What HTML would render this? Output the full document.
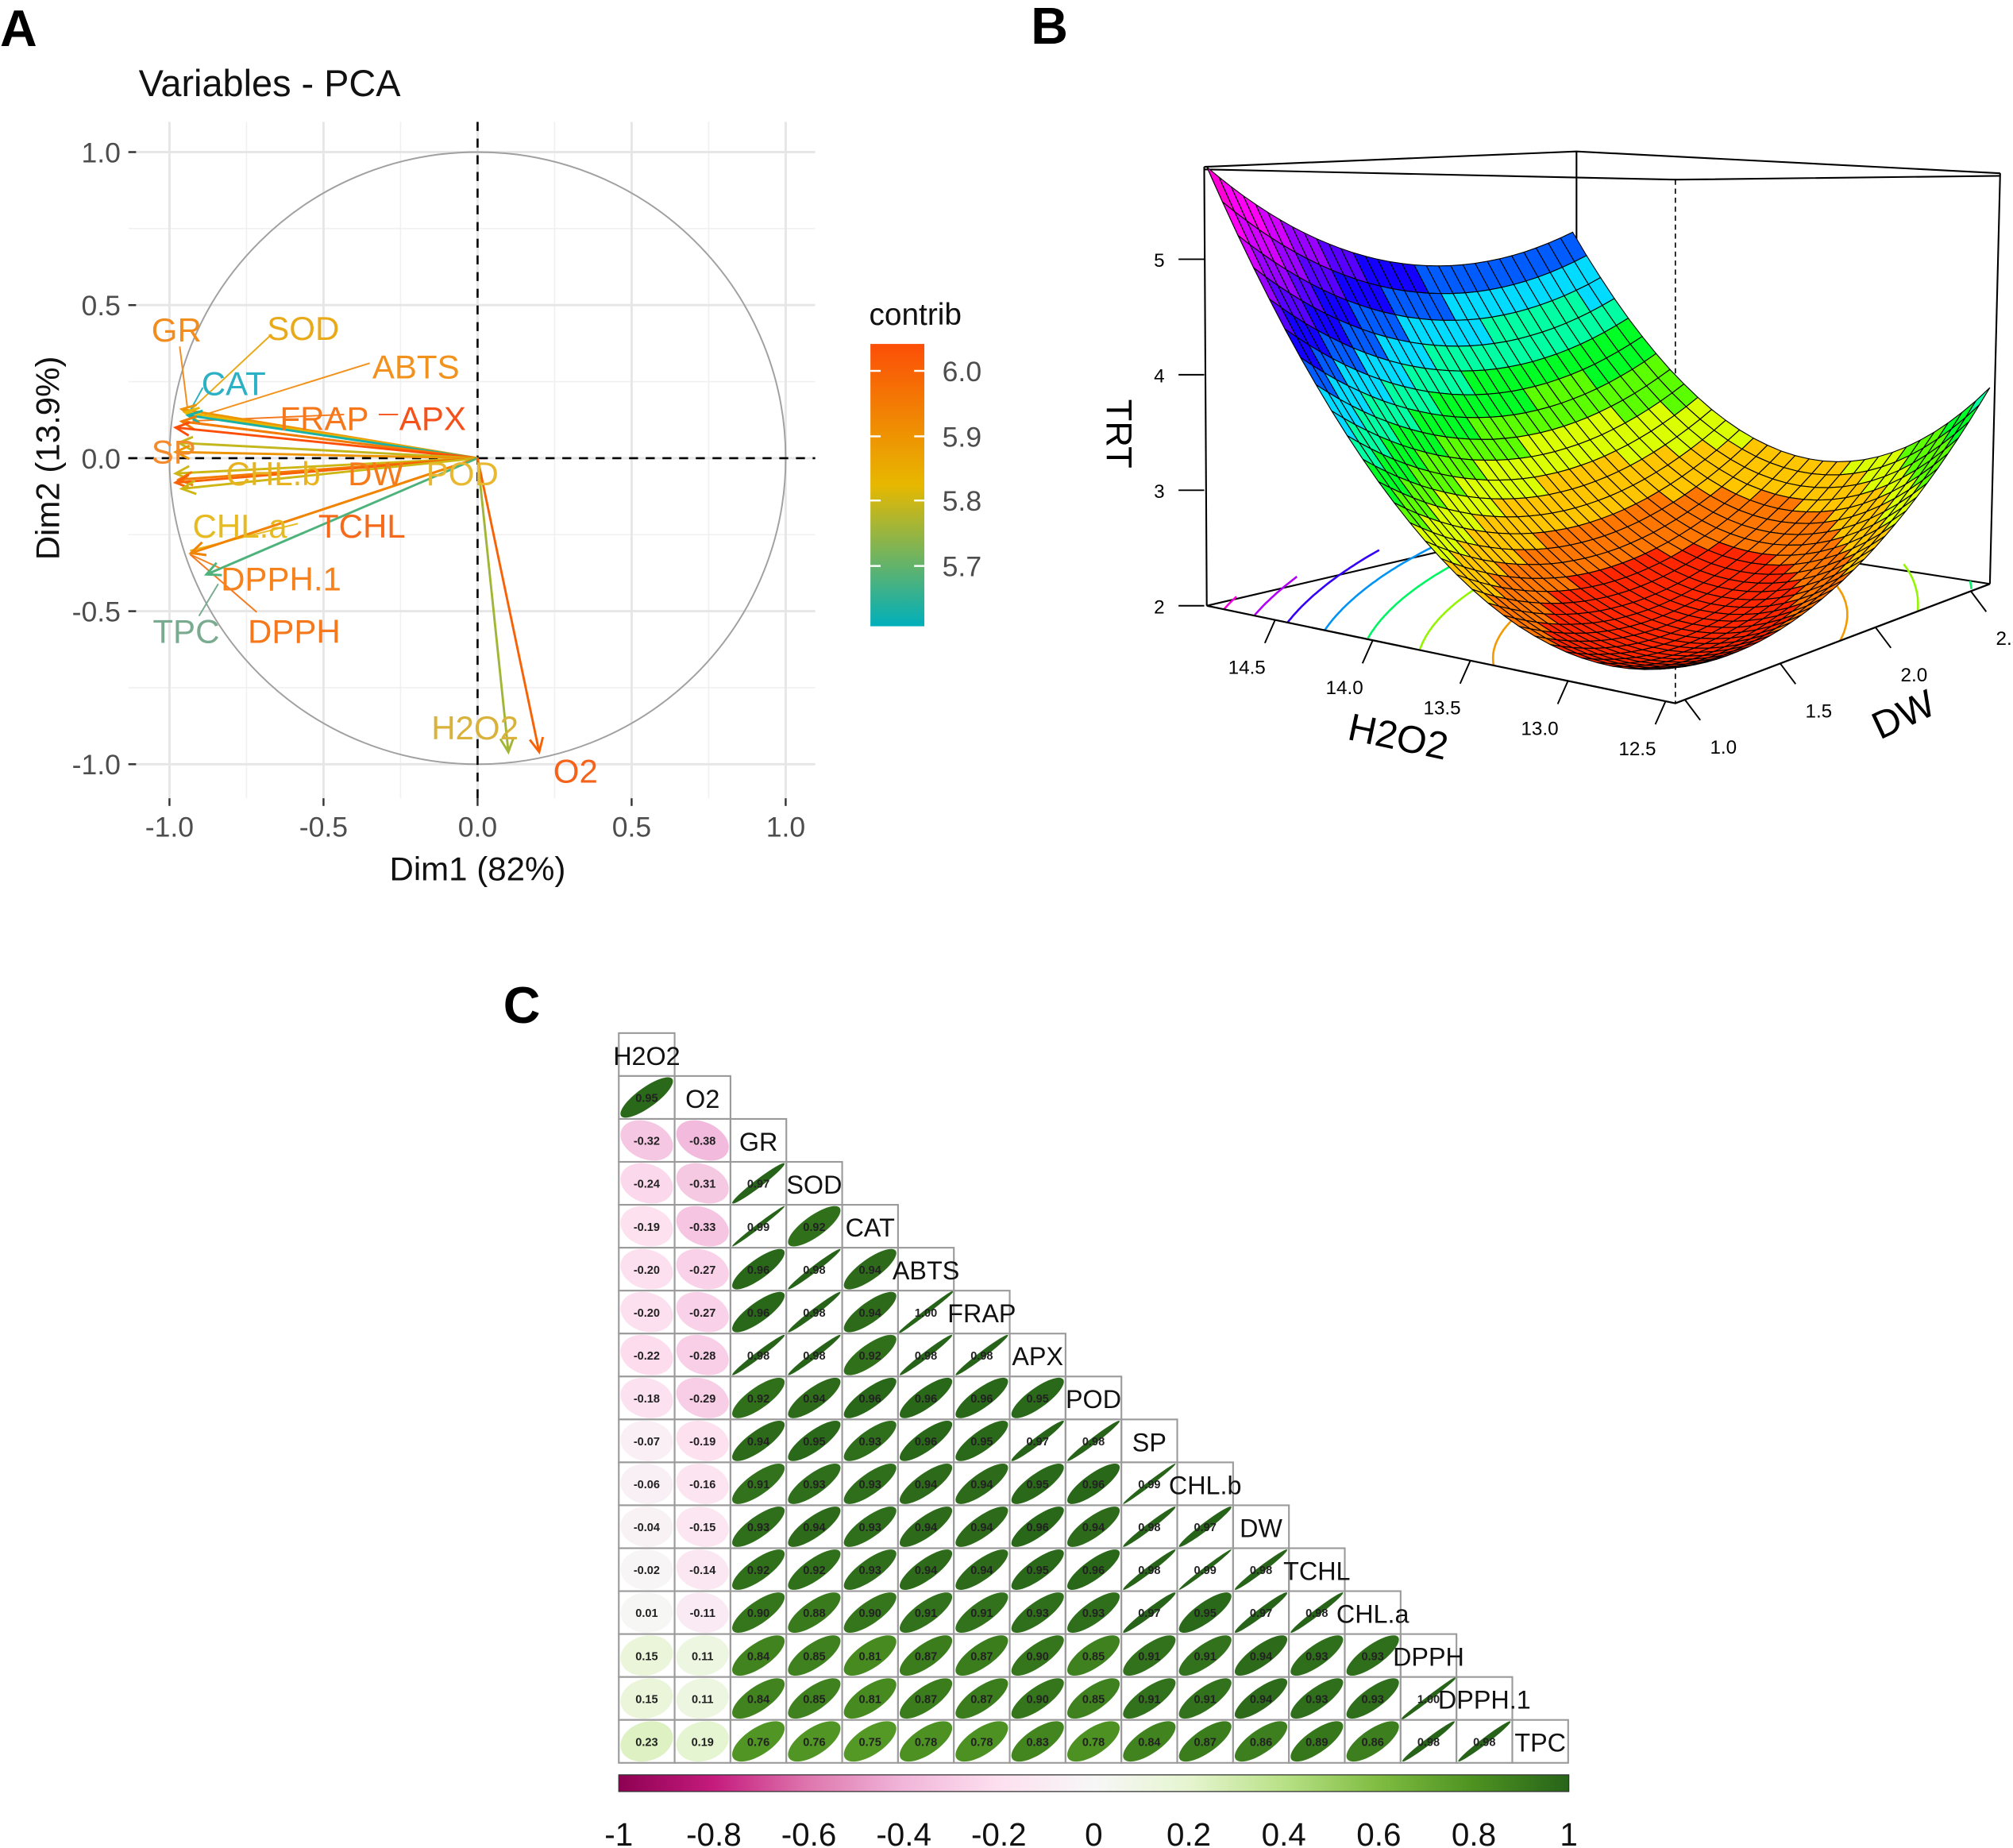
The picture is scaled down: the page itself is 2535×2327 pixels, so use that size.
<!DOCTYPE html>
<html><head><meta charset="utf-8">
<style>
html,body{margin:0;padding:0;background:#fff;}
svg{display:block;}
text{font-family:"Liberation Sans",sans-serif;}
</style></head>
<body>
<svg id="fig" xmlns="http://www.w3.org/2000/svg" width="2535" height="2327" viewBox="0 0 1568 1440" preserveAspectRatio="none">
<rect x="0" y="0" width="1568" height="1440" fill="#fff"/>
<text x="0" y="36" font-family="Liberation Serif" font-weight="bold" font-size="40">A</text>
<text x="803" y="34" font-family="Liberation Serif" font-weight="bold" font-size="40">B</text>
<text x="392" y="797" font-family="Liberation Serif" font-weight="bold" font-size="40">C</text>

<g id="pca">
<text x="108" y="75" font-size="29" fill="#111">Variables - PCA</text>
<g id="pcaGrid"></g>
<g fill="none" stroke-width="1.2">
<line x1="140" y1="270" x2="146" y2="318" stroke="#f28c1e"/>
<line x1="210" y1="262" x2="148" y2="320" stroke="#e9aa1a"/>
<line x1="158" y1="302" x2="147" y2="322" stroke="#2bb0c4"/>
<line x1="288" y1="283" x2="150" y2="326" stroke="#f2921c"/>
<line x1="268" y1="323" x2="150" y2="328" stroke="#f5781c"/>
<line x1="295" y1="323" x2="310" y2="323" stroke="#f4521a"/>
<line x1="232" y1="408" x2="148" y2="429" stroke="#e6bb22"/>
<line x1="172" y1="443" x2="148" y2="432" stroke="#f5821c"/>
<line x1="200" y1="477" x2="148" y2="432" stroke="#f5781c"/>
<line x1="155" y1="480" x2="170" y2="455" stroke="#7aab90"/>
</g>
<g id="pcaArrows"></g>
<g font-size="26">
<text x="118" y="266" fill="#f28c1e">GR</text>
<text x="208" y="265" fill="#e9aa1a">SOD</text>
<text x="157" y="308" fill="#2bb0c4">CAT</text>
<text x="290" y="295" fill="#f2921c">ABTS</text>
<text x="218" y="335" fill="#f5781c">FRAP</text>
<text x="311" y="335" fill="#f4521a">APX</text>
<text x="118" y="361" fill="#f38a2c">SP</text>
<text x="176" y="378" fill="#e8b220">CHL.b</text>
<text x="271" y="378" fill="#f57a1a">DW</text>
<text x="332" y="378" fill="#e8b830">POD</text>
<text x="150" y="419" fill="#e6bb22">CHL.a</text>
<text x="248" y="419" fill="#f56a1a">TCHL</text>
<text x="172" y="460" fill="#f5821c">DPPH.1</text>
<text x="119" y="501" fill="#7aab90">TPC</text>
<text x="193" y="501" fill="#f5781c">DPPH</text>
<text x="336" y="576" fill="#d8b23a">H2O2</text>
<text x="431" y="610" fill="#f5621a">O2</text>
</g>
<text x="372" y="686" font-size="26" text-anchor="middle" fill="#111">Dim1 (82%)</text>
<text transform="translate(46,357) rotate(-90)" font-size="26" text-anchor="middle" fill="#111">Dim2 (13.9%)</text>
<g>
<defs><linearGradient id="contribGrad" x1="0" y1="1" x2="0" y2="0">
<stop offset="0" stop-color="#00AFBB"/><stop offset="0.5" stop-color="#E7B800"/><stop offset="1" stop-color="#FC4E07"/>
</linearGradient></defs>
<text x="677" y="253" font-size="24" fill="#111">contrib</text>
<rect x="678" y="268" width="42" height="220" fill="url(#contribGrad)"/>
<g stroke="#fff" stroke-width="1.5">
<line x1="678" y1="289" x2="686" y2="289"/><line x1="712" y1="289" x2="720" y2="289"/>
<line x1="678" y1="340" x2="686" y2="340"/><line x1="712" y1="340" x2="720" y2="340"/>
<line x1="678" y1="390" x2="686" y2="390"/><line x1="712" y1="390" x2="720" y2="390"/>
<line x1="678" y1="441" x2="686" y2="441"/><line x1="712" y1="441" x2="720" y2="441"/>
</g>
<g font-size="22" fill="#4d4d4d">
<text x="734" y="297">6.0</text>
<text x="734" y="348">5.9</text>
<text x="734" y="398">5.8</text>
<text x="734" y="449">5.7</text>
</g>
</g>
</g>

<g id="surf"></g>

<g id="corr"></g>
<g>
<defs><linearGradient id="piyg" x1="0" y1="0" x2="1" y2="0">
<stop offset="0" stop-color="#8E0152"/><stop offset="0.1" stop-color="#C51B7D"/><stop offset="0.2" stop-color="#DE77AE"/><stop offset="0.3" stop-color="#F1B6DA"/><stop offset="0.4" stop-color="#FDE0EF"/><stop offset="0.5" stop-color="#F7F7F7"/><stop offset="0.6" stop-color="#E6F5D0"/><stop offset="0.7" stop-color="#B8E186"/><stop offset="0.8" stop-color="#7FBC41"/><stop offset="0.9" stop-color="#4D9221"/><stop offset="1" stop-color="#276419"/>
</linearGradient></defs>
<rect x="482" y="1383" width="740" height="13" fill="url(#piyg)" stroke="#333" stroke-width="0.8"/>
<g id="cbTicks"></g>
</g>
</svg>
<script>
const NS='http://www.w3.org/2000/svg';
function mk(parent,tag,attrs,txt){const e=document.createElementNS(NS,tag);for(const k in attrs)e.setAttribute(k,attrs[k]);if(txt!==undefined)e.textContent=txt;parent.appendChild(e);return e;}

/* ---------- Panel A data ---------- */
const pcaVars=['GR','SOD','CAT','ABTS','FRAP','APX','POD','SP','CHL.b','DW','TCHL','CHL.a','DPPH','DPPH.1','TPC','H2O2','O2'];
const pcaDim1=[-0.96,-0.95,-0.94,-0.96,-0.96,-0.98,-0.97,-0.98,-0.98,-0.97,-0.98,-0.96,-0.93,-0.93,-0.88,0.10,0.20];
const pcaDim2=[0.16,0.15,0.14,0.12,0.12,0.10,0.05,0.02,-0.05,-0.07,-0.08,-0.10,-0.31,-0.31,-0.38,-0.96,-0.96];
const pcaContrib=[5.90,5.83,5.63,5.90,5.95,6.05,5.79,5.90,5.80,5.95,6.00,5.80,5.93,5.93,5.68,5.76,6.00];
const pcaTicks=[-1.0,-0.5,0.0,0.5,1.0];

const ax=v=>372+v*240, ay=v=>357-v*238.5;
function hex(c){return [parseInt(c.slice(1,3),16),parseInt(c.slice(3,5),16),parseInt(c.slice(5,7),16)];}
function lerpCol(stops,t){t=Math.max(0,Math.min(1,t));const n=stops.length-1;const i=Math.min(n-1,Math.floor(t*n));const f=t*n-i;const a=hex(stops[i]),b=hex(stops[i+1]);return 'rgb('+a.map((v,k)=>Math.round(v+(b[k]-v)*f)).join(',')+')';}
const contribCol=c=>lerpCol(['#00AFBB','#E7B800','#FC4E07'],(c-5.607)/(6.041-5.607));

const grid=document.getElementById('pcaGrid');
[-0.75,-0.25,0.25,0.75].forEach(v=>{
  const l1=mk(grid,'line',{x1:ax(v),x2:ax(v),y1:95,y2:622,stroke:'#f0f0f0','stroke-width':1});
  
  
  const l2=mk(grid,'line',{x1:100,x2:635,y1:ay(v),y2:ay(v),stroke:'#f0f0f0','stroke-width':1});
  
  
});
pcaTicks.forEach(v=>{
  const l1=mk(grid,'line',{x1:ax(v),x2:ax(v),y1:95,y2:622,stroke:'#e6e6e6','stroke-width':1.8});
  
  
  const l2=mk(grid,'line',{x1:100,x2:635,y1:ay(v),y2:ay(v),stroke:'#e6e6e6','stroke-width':1.8});
  
  
  const t1=mk(grid,'text',{x:ax(v),y:652,'font-size':22,fill:'#4d4d4d','text-anchor':'middle'},v.toFixed(1));
  
  
  const t2=mk(grid,'text',{x:94,y:ay(v)+8,'font-size':22,fill:'#4d4d4d','text-anchor':'end'},v.toFixed(1));
  
  
  const k1=mk(grid,'line',{x1:ax(v),x2:ax(v),y1:622,y2:628,stroke:'#333','stroke-width':1.5});
  
  
  const k2=mk(grid,'line',{x1:100,x2:106,y1:ay(v),y2:ay(v),stroke:'#333','stroke-width':1.5});
  
  
});
const circ=mk(grid,'ellipse',{cx:ax(0),cy:ay(0),rx:240,ry:238.5,fill:'none',stroke:'#a0a0a0','stroke-width':1.2});


const zx=mk(grid,'line',{x1:100,x2:635,y1:ay(0),y2:ay(0),stroke:'#000','stroke-width':1.6,'stroke-dasharray':'7,6'});


const zy=mk(grid,'line',{x1:ax(0),x2:ax(0),y1:95,y2:622,stroke:'#000','stroke-width':1.6,'stroke-dasharray':'7,6'});



const arrG=document.getElementById('pcaArrows');
pcaVars.forEach((n,i)=>{
  const x2=ax(pcaDim1[i]),y2=ay(pcaDim2[i]),x1=ax(0),y1=ay(0);
  const col=contribCol(pcaContrib[i]);
  const g=mk(arrG,'g',{stroke:col,'stroke-width':1.8,fill:'none'});
  
  
  mk(g,'line',{x1:x1,y1:y1,x2:x2,y2:y2});
  const a=Math.atan2(y2-y1,x2-x1),L=12,s=0.45;
  mk(g,'polyline',{points:`${x2-L*Math.cos(a-s)},${y2-L*Math.sin(a-s)} ${x2},${y2} ${x2-L*Math.cos(a+s)},${y2-L*Math.sin(a+s)}`});
});

/* ---------- Panel B: response surface ---------- */
const surfCoef=[4.89,2.15,-2.99];
const surfCenter=[0.25,0.35,2.0];
const h2o2Range=[12.45,14.85];
const dwRange=[0.95,2.6];
const zTicks=[2,3,4,5];
const h2o2Ticks=[12.5,13.0,13.5,14.0,14.5];
const dwTicks=[1.0,1.5,2.0,2.5];
const contourLevels=[2.5,3.0,3.5,4.0,4.5,5.0,5.5];
const hueZ=[2,2.4,2.8,3.3,3.8,4.3,4.8,5.3,5.9];
const hueH=[0,30,60,120,180,240,272,300,318];

const S=document.getElementById('surf');
const P=(u,v,z)=>[1305-365*u+245*v+40*u*v,548-76*u-93*v-(z-2)*90];
const f=(u,v)=>{const du=u-surfCenter[0],dv=v-surfCenter[1];return surfCenter[2]+surfCoef[0]*du*du+surfCoef[1]*dv*dv+surfCoef[2]*du*dv;};
function hueOf(z){if(z<=hueZ[0])return hueH[0];for(let i=1;i<hueZ.length;i++){if(z<=hueZ[i]){const t=(z-hueZ[i-1])/(hueZ[i]-hueZ[i-1]);return hueH[i-1]+t*(hueH[i]-hueH[i-1]);}}return hueH[hueH.length-1];}
const nu=h=>(h-h2o2Range[0])/(h2o2Range[1]-h2o2Range[0]);
const nv=d=>(d-dwRange[0])/(dwRange[1]-dwRange[0]);

const boxBack=mk(S,'g',{stroke:'#000','stroke-width':1.3,fill:'none'});


mk(boxBack,'polyline',{points:`${P(1,0,2).join(',')} 1228,405 ${P(0,1,2).join(',')}`});
mk(boxBack,'line',{x1:1228,y1:118,x2:1228,y2:405});
mk(boxBack,'polyline',{points:'938,130 1228,118 1558,135'});
mk(boxBack,'polyline',{points:'938,132 1305,140 1558,137'});
mk(boxBack,'line',{x1:1558,y1:135,x2:P(0,1,2)[0],y2:P(0,1,2)[1]});
mk(boxBack,'line',{x1:938,y1:130,x2:P(1,0,2)[0],y2:P(1,0,2)[1]});
mk(boxBack,'line',{x1:1305,y1:140,x2:1305,y2:548,'stroke-dasharray':'4,3','stroke-width':1});

const cont=mk(S,'g',{fill:'none','stroke-width':1.6});


contourLevels.forEach(L=>{
  let d='',pen=false;
  for(let k=0;k<=360;k++){
    const th=k/360*2*Math.PI,c=Math.cos(th),s=Math.sin(th);
    const q=surfCoef[0]*c*c+surfCoef[1]*s*s+surfCoef[2]*c*s;
    const r=Math.sqrt((L-surfCenter[2])/q);
    const u=surfCenter[0]+r*c,v=surfCenter[1]+r*s;
    if(u>=0&&u<=1&&v>=0&&v<=1){const p=P(u,v,2);d+=(pen?'L':'M')+p[0].toFixed(1)+','+p[1].toFixed(1);pen=true;}else pen=false;
  }
  const pth=mk(cont,'path',{d:d,stroke:`hsl(${hueOf(L)},100%,48%)`});
  
  
});

const N=30,facets=[];
for(let i=0;i<N;i++)for(let j=0;j<N;j++){
  const u0=i/N,u1=(i+1)/N,v0=j/N,v1=(j+1)/N;
  const zc=f((u0+u1)/2,(v0+v1)/2);
  facets.push({pts:[P(u0,v0,f(u0,v0)),P(u1,v0,f(u1,v0)),P(u1,v1,f(u1,v1)),P(u0,v1,f(u0,v1))],z:zc,depth:76*(u0+u1)+93*(v0+v1)});
}
facets.sort((a,b)=>b.depth-a.depth);
const sg=mk(S,'g',{stroke:'#000','stroke-width':0.7});


facets.forEach(fc=>{
  const band=Math.floor((fc.z-2)/0.25)*0.25+2.12;
  const pg=mk(sg,'polygon',{points:fc.pts.map(p=>p[0].toFixed(1)+','+p[1].toFixed(1)).join(' '),fill:`hsl(${hueOf(band)},100%,50%)`});
  
  
});

const fr=mk(S,'g',{stroke:'#000','stroke-width':1.4,fill:'none'});


mk(fr,'polyline',{points:`${P(1,0,2).join(',')} ${P(0,0,2).join(',')} ${P(0,1,2).join(',')}`});
zTicks.forEach(z=>{
  const y=P(1,0,z)[1];
  const t=mk(S,'line',{x1:918,y1:y,x2:938,y2:y,stroke:'#000','stroke-width':1.2});
  
  
  const lb=mk(S,'text',{x:903,y:y+6,'font-size':15,'text-anchor':'middle'},String(z));
  
  
});
h2o2Ticks.forEach(h=>{
  const p=P(nu(h),0,2);
  const t=mk(S,'line',{x1:p[0],y1:p[1],x2:p[0]-8,y2:p[1]+18,stroke:'#000','stroke-width':1.2});
  
  
  const lb=mk(S,'text',{x:p[0]-22,y:p[1]+42,'font-size':15,'text-anchor':'middle'},h.toFixed(1));
  
  
});
dwTicks.forEach(d=>{
  const p=P(0,nv(d),2);
  const t=mk(S,'line',{x1:p[0],y1:p[1],x2:p[0]+12,y2:p[1]+16,stroke:'#000','stroke-width':1.2});
  
  
  const lb=mk(S,'text',{x:p[0]+30,y:p[1]+42,'font-size':15,'text-anchor':'middle'},d.toFixed(1));
  
  
});
const tTRT=mk(S,'text',{transform:'translate(862,338) rotate(90)','font-size':28,'text-anchor':'middle'},'TRT');


const tH=mk(S,'text',{transform:'translate(1087,584) rotate(12)','font-size':30,'text-anchor':'middle'},'H2O2');


const tD=mk(S,'text',{transform:'translate(1487,566) rotate(-25)','font-size':30,'text-anchor':'middle'},'DW');



/* ---------- Panel C: correlation matrix ---------- */
const corrVars=['H2O2','O2','GR','SOD','CAT','ABTS','FRAP','APX','POD','SP','CHL.b','DW','TCHL','CHL.a','DPPH','DPPH.1','TPC'];
const rowO2=[0.95];
const rowGR=[-0.32,-0.38];
const rowSOD=[-0.24,-0.31,0.97];
const rowCAT=[-0.19,-0.33,0.99,0.92];
const rowABTS=[-0.20,-0.27,0.96,0.98,0.94];
const rowFRAP=[-0.20,-0.27,0.96,0.98,0.94,1.00];
const rowAPX=[-0.22,-0.28,0.98,0.98,0.92,0.98,0.98];
const rowPOD=[-0.18,-0.29,0.92,0.94,0.96,0.96,0.96,0.95];
const rowSP=[-0.07,-0.19,0.94,0.95,0.93,0.96,0.95,0.97,0.98];
const rowCHLb=[-0.06,-0.16,0.91,0.93,0.93,0.94,0.94,0.95,0.96,0.99];
const rowDW=[-0.04,-0.15,0.93,0.94,0.93,0.94,0.94,0.96,0.94,0.98,0.97];
const rowTCHL=[-0.02,-0.14,0.92,0.92,0.93,0.94,0.94,0.95,0.96,0.98,0.99,0.98];
const rowCHLa=[0.01,-0.11,0.90,0.88,0.90,0.91,0.91,0.93,0.93,0.97,0.95,0.97,0.98];
const rowDPPH=[0.15,0.11,0.84,0.85,0.81,0.87,0.87,0.90,0.85,0.91,0.91,0.94,0.93,0.93];
const rowDPPH1=[0.15,0.11,0.84,0.85,0.81,0.87,0.87,0.90,0.85,0.91,0.91,0.94,0.93,0.93,1.00];
const rowTPC=[0.23,0.19,0.76,0.76,0.75,0.78,0.78,0.83,0.78,0.84,0.87,0.86,0.89,0.86,0.98,0.98];
const corrRows=[[],rowO2,rowGR,rowSOD,rowCAT,rowABTS,rowFRAP,rowAPX,rowPOD,rowSP,rowCHLb,rowDW,rowTCHL,rowCHLa,rowDPPH,rowDPPH1,rowTPC];
const cbTickVals=[-1,-0.8,-0.6,-0.4,-0.2,0,0.2,0.4,0.6,0.8,1];

const C=document.getElementById('corr');
const cw=43.5,ch=33.45,cx0=482,cy0=805;
const piyg=['#8E0152','#C51B7D','#DE77AE','#F1B6DA','#FDE0EF','#F7F7F7','#E6F5D0','#B8E186','#7FBC41','#4D9221','#276419'];
const corrCol=r=>lerpCol(piyg,(r+1)/2);
corrRows.forEach((row,i)=>{
  const y=cy0+i*ch;
  row.forEach((r,j)=>{
    const x=cx0+j*cw;
    const cell=mk(C,'g',{});
    
    
    mk(cell,'rect',{x:x,y:y,width:cw,height:ch,fill:'#fff',stroke:'#9a9a9a','stroke-width':1.3});
    const rEff=r>=0.995?0.995:(r>=0.965?r:r*0.85);
    const d=Math.acos(Math.max(-1,Math.min(1,rEff)));
    let pts=[];
    for(let k=0;k<60;k++){const t=k/60*2*Math.PI;pts.push(((x+cw/2)+Math.cos(t+d/2)*cw*0.47).toFixed(2)+','+((y+ch/2)-Math.cos(t-d/2)*ch*0.47).toFixed(2));}
    const fillc=r>0?lerpCol(piyg,(Math.min(1,r*1.03)+1)/2):corrCol(r);
    mk(cell,'polygon',{points:pts.join(' '),fill:fillc,stroke:r>0.99?fillc:'none','stroke-width':r>0.99?1:0});
    mk(cell,'text',{x:x+cw/2,y:y+ch/2+3.5,'font-size':9,'font-weight':'bold','text-anchor':'middle',fill:'#222'},r.toFixed(2));
  });
  const x=cx0+i*cw;
  const lc=mk(C,'g',{});
  
  
  mk(lc,'rect',{x:x,y:y,width:cw,height:ch,fill:'none',stroke:'#9a9a9a','stroke-width':1.3});
  mk(lc,'text',{x:x+cw/2,y:y+ch/2+8,'font-size':20,'text-anchor':'middle',fill:'#111'},corrVars[i]);
});
const cbt=document.getElementById('cbTicks');
cbTickVals.forEach(v=>{
  const x=482+(v+1)/2*740;
  const t=mk(cbt,'text',{x:x,y:1438,'font-size':25,'text-anchor':'middle',fill:'#111'},String(v));
  
  
});
</script>
</body></html>
